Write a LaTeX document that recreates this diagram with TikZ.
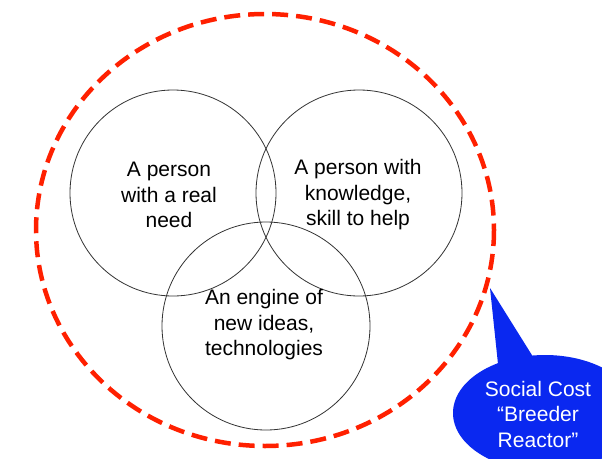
\documentclass[tikz,border=0pt]{standalone}
\usepackage{fontspec}
\setmainfont{Liberation Sans}
\begin{document}
\begin{tikzpicture}[x=1pt,y=-1pt,
  venn/.style={draw=black!80, line width=0.8pt},
  label/.style={align=center, font=\fontsize{21}{25.5}\selectfont, text=black},
  bound/.style={draw={rgb,255:red,255;green,32;blue,0}, line width=4.5pt, dash pattern=on 16pt off 8pt},
  callout/.style={fill={rgb,255:red,10;green,40;blue,240}},
  callouttext/.style={align=center, text=white, font=\fontsize{21}{25.5}\selectfont}]
  \useasboundingbox (0,0) rectangle (602,458);
  \clip (0,0) rectangle (602,458);
  \fill[white] (0,0) rectangle (602,458);

  % three overlapping circles
  \draw[venn] (173,193) circle[radius=103];
  \draw[venn] (359,193) circle[radius=103];
  \draw[venn] (266,326) circle[radius=104];

  \node[label] (need) at (169,195) {A person\\with a real\\need};
  \node[label] (skill) at (358,195) {A person with\\knowledge,\\skill to help};
  \node[label] (engine) at (264,325) {An engine of\\new ideas,\\technologies};

  % dashed boundary
  \draw[bound] (265,230) ellipse[x radius=229, y radius=216];
  \coordinate (tip) at (490,288);

  % speech bubble
  \fill[callout] (tip) -- (535,360) -- (498,364) -- cycle;
  \fill[callout] (545,413) ellipse[x radius=92, y radius=58];
  \node[callouttext] (cost) at (538,414) {Social Cost\\“Breeder\\Reactor”};
\end{tikzpicture}
\end{document}
